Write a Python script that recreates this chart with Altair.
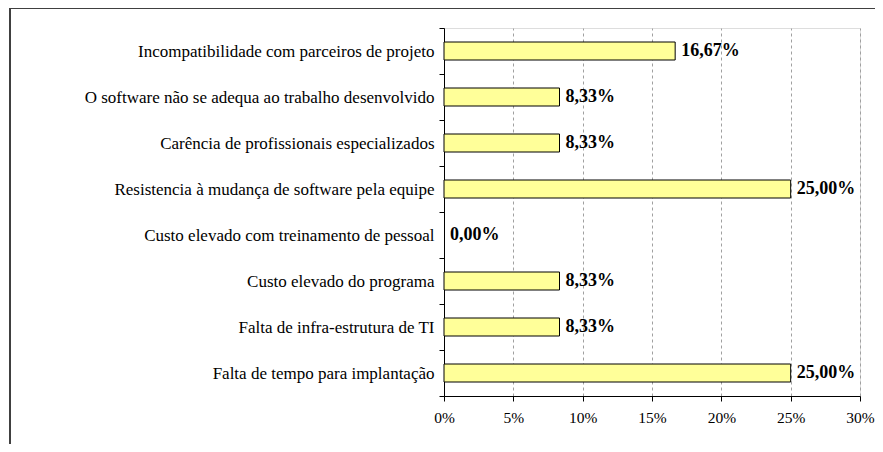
import altair as alt
import pandas as pd

categories = [
    "Incompatibilidade com parceiros de projeto",
    "O software não se adequa ao trabalho desenvolvido",
    "Carência de profissionais especializados",
    "Resistencia à mudança de software pela equipe",
    "Custo elevado com treinamento de pessoal",
    "Custo elevado do programa",
    "Falta de infra-estrutura de TI",
    "Falta de tempo para implantação",
]
values = [16.67, 8.33, 8.33, 25.00, 0.00, 8.33, 8.33, 25.00]
x_ticks = [0, 5, 10, 15, 20, 25, 30]

df = pd.DataFrame({
    "cat": categories,
    "val": values,
    "label": [f"{v:.2f}".replace(".", ",") + "%" for v in values],
})

FONT = "Liberation Serif"

y_enc = alt.Y("cat:N", sort=categories, title=None,
              scale=alt.Scale(paddingInner=0, paddingOuter=0),
              axis=alt.Axis(tickBand="extent", tickSize=5, tickColor="black",
                            domainColor="black", labelFont=FONT, labelFontSize=17,
                            labelColor="black", labelPadding=5, labelLimit=500,
                            grid=False))
x_enc = alt.X("val:Q", title=None,
              scale=alt.Scale(domain=[0, 30], nice=False),
              axis=alt.Axis(values=x_ticks, labelExpr="datum.value + '%'",
                            tickSize=5, tickColor="black", domainColor="black",
                            labelFont=FONT, labelFontSize=15.5, labelColor="black",
                            labelPadding=9, labelFlush=False, grid=True,
                            gridColor="#a0a0a0", gridDash=[3, 3], gridWidth=1))

base = alt.Chart(df)
bars = base.mark_bar(size=18, fill="#FFFF99", stroke="black").encode(
    x=x_enc, y=y_enc,
    strokeWidth=alt.condition("datum.val > 0", alt.value(1), alt.value(0)))
texts = base.mark_text(align="left", baseline="middle", dx=6, font=FONT,
                       fontSize=18, fontWeight="bold", color="black").encode(
    x="val:Q", y=alt.Y("cat:N", sort=categories), text="label:N")

top_border = alt.Chart(df).mark_rule(color="#404040", strokeWidth=2).encode(
    x=alt.value(-434), x2=alt.value(440), y=alt.value(-20))
left_border = alt.Chart(df).mark_rule(color="#404040", strokeWidth=2).encode(
    x=alt.value(-434), y=alt.value(-21), y2=alt.value(420))

chart = alt.layer(bars, texts, top_border, left_border).properties(
    width=416, height=368,
    autosize=alt.AutoSizeParams(type="none"),
    padding={"left": 436, "top": 20, "right": 15, "bottom": 48},
).configure_view(stroke=None).configure(background="white", font=FONT)

chart.save("out.html", embed_options={"renderer": "svg", "actions": False})
